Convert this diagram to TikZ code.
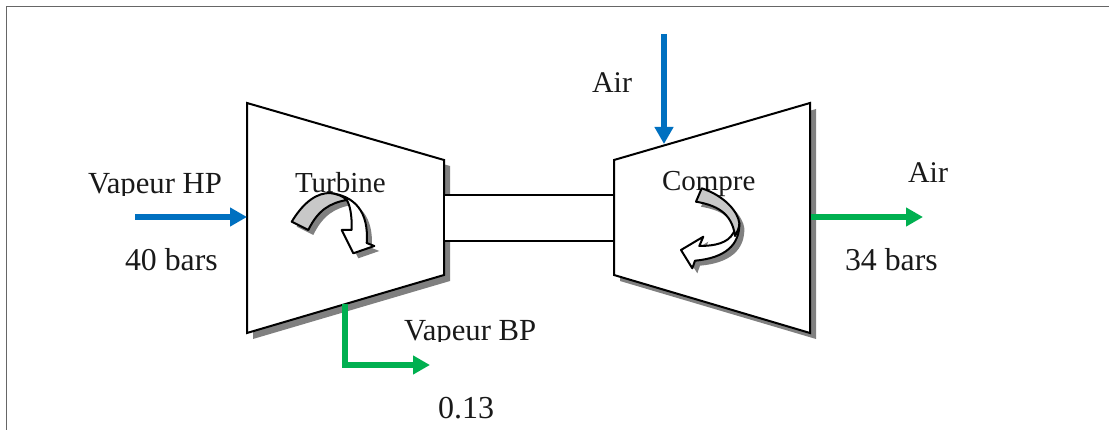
\documentclass[tikz,border=0pt]{standalone}
\usepackage{fontspec}
\setmainfont{Liberation Serif}
\usetikzlibrary{arrows.meta}
\definecolor{flowblue}{HTML}{0070C0}
\definecolor{flowgreen}{HTML}{00B050}
\definecolor{shadowgray}{HTML}{808080}
\definecolor{band}{HTML}{C8C8C8}
\tikzset{
  lbl/.style={anchor=base west,inner sep=0pt,outer sep=0pt,font=\fontsize{#1}{34}\selectfont,text=black!90},
  lbl/.default=31,
  body/.style={draw=black,line width=2pt,fill=white,line join=miter},
  shadowshape/.style={fill=shadowgray,draw=none},
  flow/.style={line width=6pt,-{Triangle[length=17pt,width=18pt]}},
  ink/.style={draw=black,line width=2pt,line join=round},
}
\begin{document}
\begin{tikzpicture}[x=1pt,y=-1pt]
\useasboundingbox (0,0) rectangle (1109,430);
% frame
\draw[line width=1.8pt,draw=black!60] (6.5,430) -- (6.5,6.5) -- (1109,6.5);
% shadows of the two bodies
\fill[shadowshape] (253,109) -- (450,166) -- (450,281) -- (253,339) -- cycle;
\fill[shadowshape] (816,109) -- (620,166) -- (620,281) -- (816,339) -- cycle;
% bodies
\draw[body] (247,103) -- (444,160) -- (444,275) -- (247,333) -- cycle;
\draw[body] (810,103) -- (614,160) -- (614,275) -- (810,333) -- cycle;
% shaft
\coordinate (shaftTL) at (444,195);
\coordinate (shaftTR) at (614,195);
\coordinate (shaftBL) at (444,241);
\coordinate (shaftBR) at (614,241);
\fill[white] (444,195) rectangle (614,241);
\draw[line width=1.8pt] (shaftTL) -- (shaftTR) (shaftBL) -- (shaftBR);
\draw[line width=2pt] (444,160) -- (444,275) (614,160) -- (614,275);
% labels under the rotating arrows
\node[lbl=29] (turbine) at (295,193) {Turbine};
\node[lbl=29] (compre) at (662,191) {Compre};
% turbine rotation arrow
\begin{scope}[shift={(5,5)}]
\fill[shadowgray] (291.7,221.7) .. controls (305,200) and (318,193) .. (330,193)
  .. controls (355,196) and (369,212) .. (366.7,243) -- (374.3,246) -- (353.3,253.3) -- (341.7,230) -- (351.7,230)
  .. controls (352,215) and (350,205) .. (346.7,200) .. controls (330,203) and (318,210) .. (308.3,230) -- cycle;
\end{scope}
\path[ink,fill=white] (330,193) .. controls (355,196) and (369,212) .. (366.7,243) -- (374.3,246) -- (353.3,253.3) -- (341.7,230) -- (351.7,230)
  .. controls (352,215) and (350,205) .. (346.7,200) -- cycle;
\path[ink,fill=band] (291.7,221.7) .. controls (305,200) and (318,193) .. (330,193)
  .. controls (337,194) and (343,196) .. (346.7,200) .. controls (330,203) and (318,210) .. (308.3,230) -- cycle;
% compressor rotation arrow
\begin{scope}[shift={(5,5)}]
\fill[shadowgray] (701.7,188.3) .. controls (725,196) and (738,212) .. (739.3,223)
  .. controls (740,245) and (725,258) .. (695,260.7) -- (692.3,268.3) -- (681,250) -- (703.3,236.7) -- (699.3,246)
  .. controls (715,246) and (728,243) .. (733.3,233) .. controls (730,212) and (715,205) .. (696,201.7) -- cycle;
\end{scope}
\path[ink,fill=white] (739.3,223) .. controls (740,245) and (725,258) .. (695,260.7) -- (692.3,268.3) -- (681,250) -- (703.3,236.7) -- (699.3,246)
  .. controls (715,246) and (728,243) .. (733.3,233) -- cycle;
\path[ink,fill=band] (701.7,188.3) .. controls (725,196) and (738,212) .. (739.3,223)
  .. controls (739.5,228) and (737,232) .. (735,236) .. controls (732,212) and (715,205) .. (696,201.7) -- cycle;
% flow arrows
\coordinate (hpA) at (135,217);
\coordinate (hpB) at (247,217);
\coordinate (airA) at (664,34);
\coordinate (airB) at (664,144);
\coordinate (outA) at (811,217);
\coordinate (outB) at (923,217);
\coordinate (bpA) at (345,304);
\coordinate (bpC) at (345,365);
\coordinate (bpB) at (430,365);
\draw[flow,flowblue] (hpA) -- (hpB);
\draw[flow,flowblue] (airA) -- (airB);
\draw[flow,flowgreen] (outA) -- (outB);
\draw[flow,flowgreen,line join=miter] (bpA) -- (bpC) -- (bpB);
% labels
\begin{scope}
\clip (80,165) rectangle (230,196);
\node[lbl=30.7] (hp) at (88,194) {Vapeur HP};
\end{scope}
\begin{scope}
\clip (395,310) rectangle (540,342);
\node[lbl=30.7] (bp) at (404,341) {Vapeur BP};
\end{scope}
\node[lbl=31.8] (hpbar) at (125,271) {40 bars};
\node[lbl=30] (airin) at (592,93) {Air};
\node[lbl=30] (airout) at (908,183) {Air};
\node[lbl=31.8] (outbar) at (845,271) {34 bars};
\node[lbl=32] (bpbar) at (438,418) {0.13};
\end{tikzpicture}
\end{document}
